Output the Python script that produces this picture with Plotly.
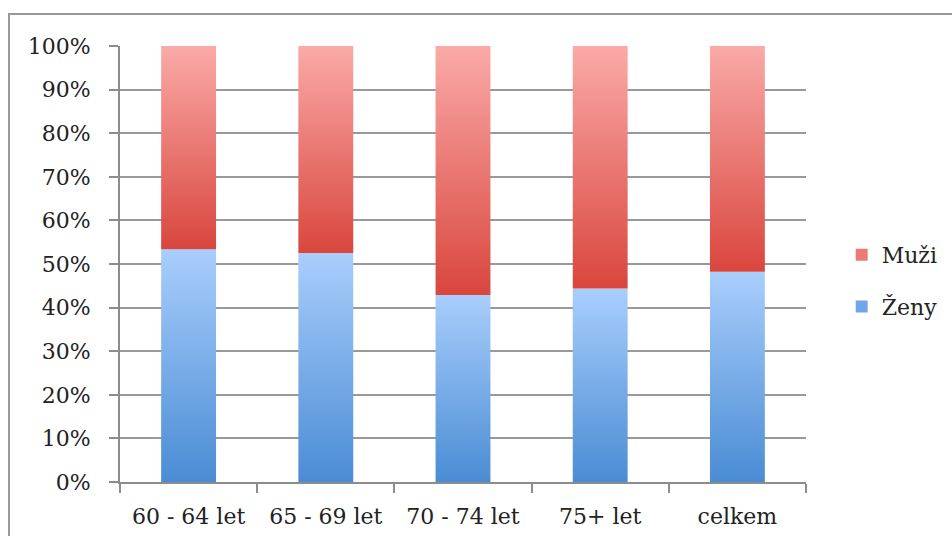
import plotly.graph_objects as go

# Age groups and shares (%) of women / men
categories = ["60 - 64 let", "65 - 69 let", "70 - 74 let", "75+ let", "celkem"]
zeny = [53.4, 52.5, 42.9, 44.4, 48.2]
muzi = [round(100 - z, 1) for z in zeny]

# name, values, gradient (bottom, top), legend swatch, legend rank
series = [
    ("Ženy", zeny, ["#4a8cd4", "#a9cefc"], "#6fa6e6", 2),
    ("Muži", muzi, ["#d9463d", "#faaaa8"], "#ec7a74", 1),
]

BAR_HALF = 0.2
FONT = "DejaVu Serif"
GRID = "#999999"
AXIS = "#8c8c8c"

fig = go.Figure()

base = [0.0] * len(categories)
for name, values, (dark, light), swatch, rank in series:
    for i, v in enumerate(values):
        b0, b1 = base[i], base[i] + v
        fig.add_trace(go.Scatter(
            x=[i - BAR_HALF, i + BAR_HALF, i + BAR_HALF, i - BAR_HALF, i - BAR_HALF],
            y=[b0, b0, b1, b1, b0],
            mode="none",
            fill="toself",
            fillcolor=dark,
            fillgradient=dict(type="vertical", colorscale=[[0, dark], [1, light]],
                              start=b0, stop=b1),
            name=name,
            legendgroup=name,
            showlegend=False,
            hoverinfo="skip",
        ))
    # legend swatch for the series
    fig.add_trace(go.Bar(x=[None], y=[None], name=name, legendgroup=name,
                         legendrank=rank,
                         marker=dict(color=swatch, line=dict(width=0)),
                         showlegend=True, hoverinfo="skip"))
    base = [b + v for b, v in zip(base, values)]

fig.update_layout(
    width=952, height=536,
    margin=dict(l=120, r=146, t=46, b=54, autoexpand=False),
    paper_bgcolor="white", plot_bgcolor="white",
    font=dict(family=FONT, size=22, color="#222222"),
    showlegend=True,
    legend=dict(x=1.052, xanchor="left", y=0.461, yanchor="middle",
                traceorder="grouped", tracegroupgap=20,
                font=dict(family=FONT, size=22, color="#222222"),
                bgcolor="rgba(0,0,0,0)"),
    xaxis=dict(
        range=[-0.5, len(categories) - 0.5],
        tickmode="array", tickvals=list(range(len(categories))), ticktext=categories,
        ticks="", showgrid=False, zeroline=False,
        showline=True, linecolor=AXIS, linewidth=2,
        ticklabelstandoff=14, automargin=False,
        minor=dict(tickmode="array",
                   tickvals=[k - 0.5 for k in range(len(categories) + 1)],
                   ticks="outside", ticklen=9, tickwidth=2, tickcolor=AXIS,
                   showgrid=False),
        fixedrange=True,
    ),
    yaxis=dict(
        range=[0, 100], dtick=10, ticksuffix="%",
        ticks="outside", ticklen=9, tickwidth=2, tickcolor=AXIS,
        showgrid=True, gridcolor=GRID, gridwidth=1.5,
        zeroline=False, showline=True, linecolor=AXIS, linewidth=2,
        ticklabelstandoff=14, automargin=False,
        fixedrange=True,
    ),
    shapes=[dict(type="rect", xref="paper", yref="paper",
                 x0=-0.1618, x1=1.5, y0=-0.3, y1=1.0734,
                 line=dict(color="#999999", width=2), fillcolor="rgba(0,0,0,0)",
                 layer="below")],
)

fig.write_html("out.html")
